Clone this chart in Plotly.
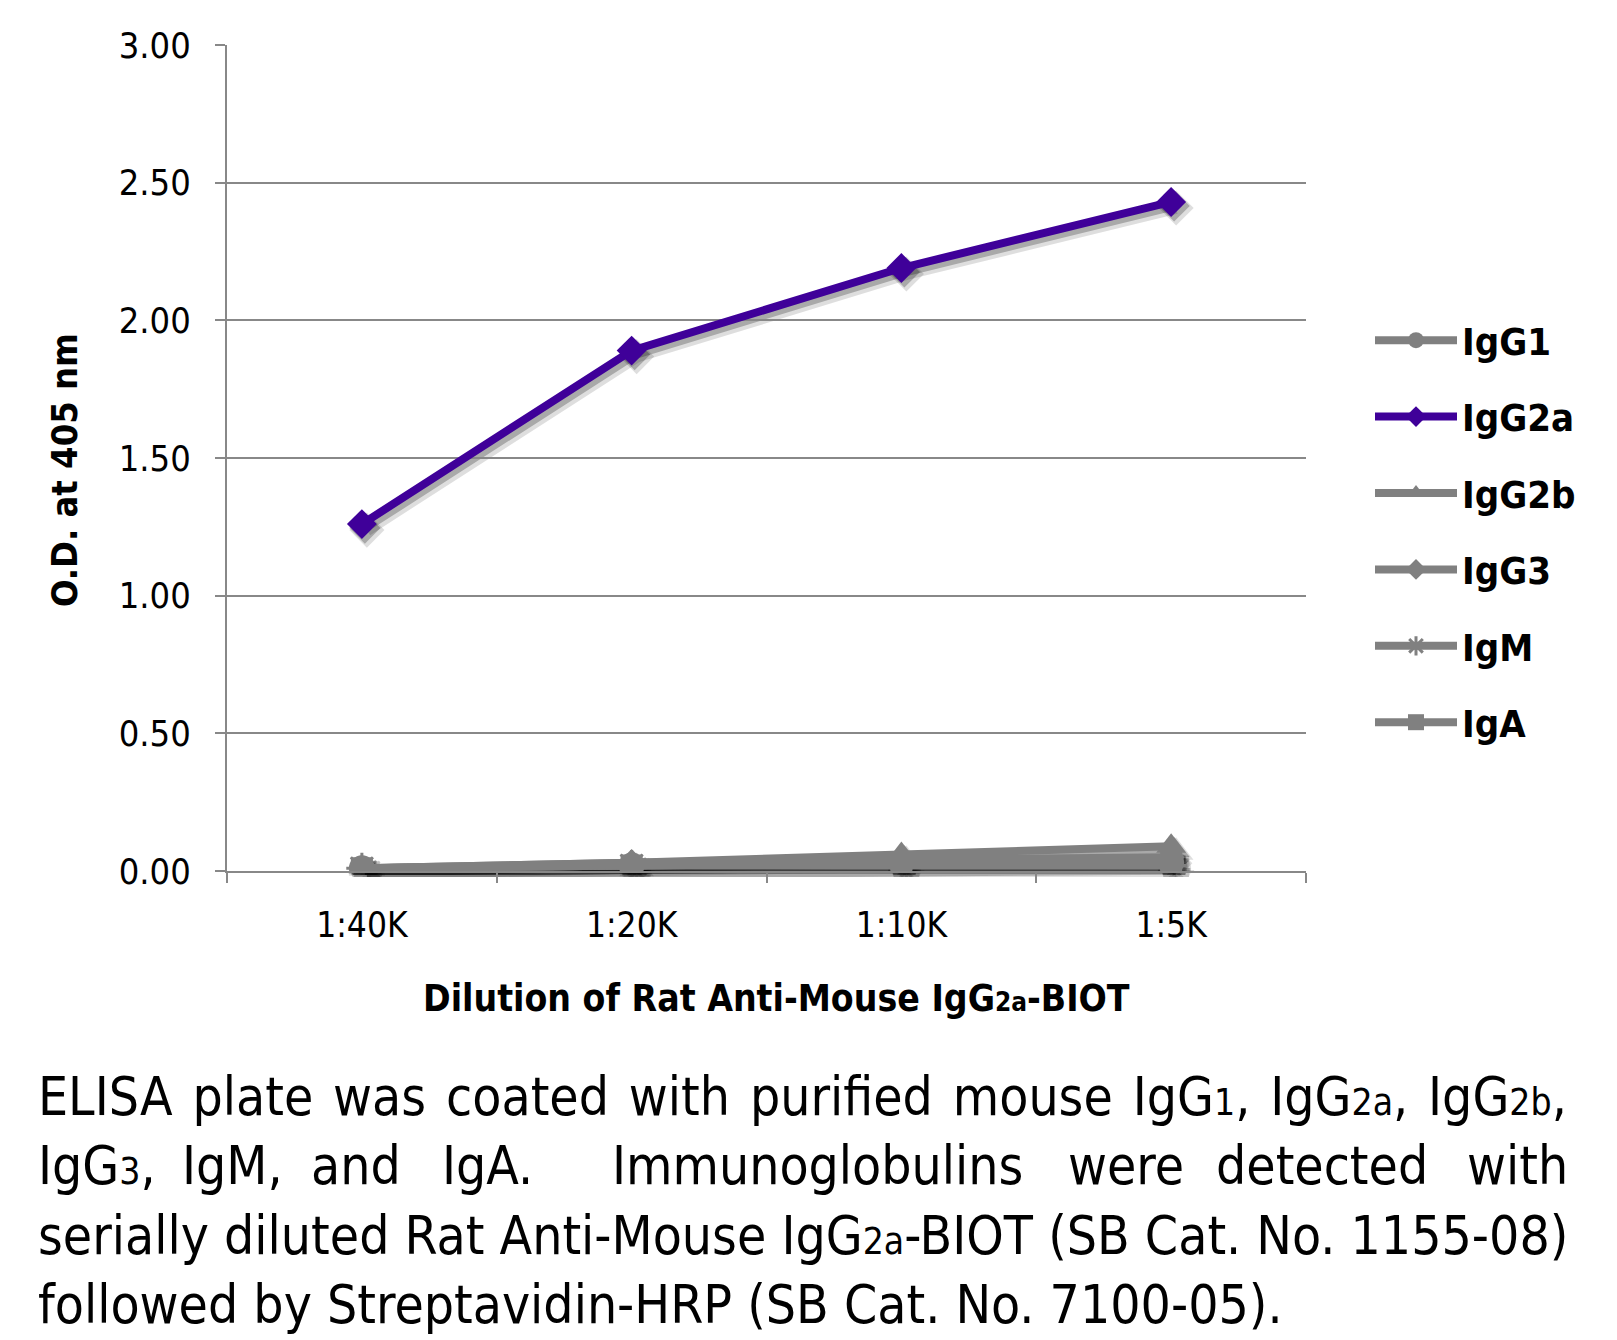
import plotly.graph_objects as go

# ---------------- data ----------------
dilutions = ["1:40K", "1:20K", "1:10K", "1:5K"]
series_names = ["IgG1", "IgG2a", "IgG2b", "IgG3", "IgM", "IgA"]
igg1 = [0.01, 0.02, 0.03, 0.03]
igg2a = [1.26, 1.89, 2.19, 2.43]
igg2b = [0.01, 0.03, 0.06, 0.09]
igg3 = [0.01, 0.03, 0.04, 0.05]
igm = [0.01, 0.02, 0.02, 0.02]
iga = [0.01, 0.02, 0.03, 0.03]
y_ticks = [0.0, 0.5, 1.0, 1.5, 2.0, 2.5, 3.0]
y_tick_text = ["0.00", "0.50", "1.00", "1.50", "2.00", "2.50", "3.00"]

series_values = [igg1, igg2a, igg2b, igg3, igm, iga]
symbols = ["circle", "diamond", "triangle-up", "diamond", "asterisk-open", "square"]
sizes = [26, 23, 26, 21, 26, 22]
GREY = "#808080"
PURPLE = "#3f0099"
colors = [GREY, PURPLE, GREY, GREY, GREY, GREY]

# ---------------- layout geometry (screen px) ----------------
W, H = 1617, 1340
OFF = 8  # page body margin offset
PL, PR, PT, PB = 227, 1306, 45, 871


def fx(px):
    return (px - OFF) / W


def fy(py):
    return 1 - (py - OFF) / H


FONT = "DejaVu Sans Condensed, DejaVu Sans, sans-serif"

fig = go.Figure()

# soft drop shadow: two layers on shifted, hidden axes
shadow_layers = [("x", "y", 12, 0.13), ("x2", "y2", 9, 0.24)]
for xa, ya, lw, alpha in shadow_layers:
    rgba = f"rgba(0,0,0,{alpha})"
    for name, vals, sym, sz in zip(series_names, series_values, symbols, sizes):
        fig.add_trace(go.Scatter(
            x=dilutions, y=vals, mode="lines+markers", name=name,
            xaxis=xa, yaxis=ya, showlegend=False, hoverinfo="skip",
            line=dict(color=rgba, width=lw),
            marker=dict(symbol=sym, size=sz + lw - 8, color=rgba,
                        line=dict(width=3 if sym == "asterisk-open" else 0, color=rgba)),
        ))

# main traces
for name, vals, sym, sz, col in zip(series_names, series_values, symbols, sizes, colors):
    fig.add_trace(go.Scatter(
        x=dilutions, y=vals, mode="lines+markers", name=name,
        xaxis="x3", yaxis="y3", legendgroup=name,
        line=dict(color=col, width=8),
        marker=dict(symbol=sym, size=sz, color=col,
                    line=dict(width=3 if sym == "asterisk-open" else 0, color=col)),
    ))

x_dom = [fx(PL), fx(PR)]
y_dom = [fy(PB), fy(PT)]


def hidden_axes(ox, oy, anchor_x, anchor_y):
    return (dict(domain=[fx(PL + ox), fx(PR + ox)], range=[-0.5, 3.5], anchor=anchor_y,
                 visible=False, type="category", categoryarray=dilutions),
            dict(domain=[fy(PB + oy), fy(PT + oy)], range=[0, 3], anchor=anchor_x, visible=False))


xa1, ya1 = hidden_axes(5, 6, "x", "y")
xa2, ya2 = hidden_axes(3, 4, "x2", "y2")

fig.update_layout(
    width=W, height=H,
    margin=dict(l=0, r=0, t=0, b=0, pad=0, autoexpand=False),
    paper_bgcolor="white", plot_bgcolor="rgba(0,0,0,0)",
    font=dict(family=FONT, color="black", size=32),
    xaxis=xa1, yaxis=ya1, xaxis2=xa2, yaxis2=ya2,
    xaxis3=dict(domain=x_dom, range=[-0.5, 3.5], type="category",
                categoryarray=dilutions, anchor="y3",
                showline=True, linecolor="#888888", linewidth=2,
                ticks="outside", tickson="boundaries", ticklen=10,
                tickcolor="#888888", tickwidth=2, showgrid=False,
                tickfont=dict(size=35, family=FONT), ticklabelstandoff=22),
    yaxis3=dict(domain=y_dom, range=[0, 3], anchor="x3",
                tickvals=y_ticks, ticktext=y_tick_text,
                showline=True, linecolor="#888888", linewidth=2,
                ticks="outside", ticklen=10, tickcolor="#888888", tickwidth=2,
                showgrid=True, gridcolor="#888888", gridwidth=2,
                zeroline=False,
                tickfont=dict(size=36, family=FONT), ticklabelstandoff=17),
    legend=dict(x=fx(1370), y=fy(309), xanchor="left", yanchor="top",
                xref="paper", yref="paper",
                font=dict(size=38, family=FONT, weight="bold"),
                tracegroupgap=24, itemwidth=82,
                bgcolor="rgba(0,0,0,0)"),
    showlegend=True,
)

S = lambda t, s: f'<span style="font-size:{s}px">{t}</span>'

annotations = []
annotations.append(dict(text="<b>O.D. at 405 nm</b>", x=fx(65), y=fy(470),
                        xref="paper", yref="paper", showarrow=False, textangle=-90,
                        xanchor="center", yanchor="middle",
                        font=dict(size=36, family=FONT)))
annotations.append(dict(text="<b>Dilution of Rat Anti-Mouse IgG" + S("2a", 26) + "-BIOT</b>",
                        x=fx(776), y=fy(998),
                        xref="paper", yref="paper", showarrow=False,
                        xanchor="center", yanchor="middle",
                        font=dict(size=37, family=FONT)))

CS = 53
SUB = 37
cap_font = dict(size=CS, family=FONT, color="black")
GAP1 = " \u200a"  # slightly widened word gap for the justified first line
GAP3 = " "
line1 = GAP1.join(["ELISA", "plate", "was", "coated", "with", "purified", "mouse",
                   "IgG" + S("1", SUB) + ",", "IgG" + S("2a", SUB) + ",", "IgG" + S("2b", SUB) + ","])
line3 = "serially diluted Rat Anti-Mouse IgG" + S("2a", SUB) + "-BIOT (SB Cat. No. 1155-08)"
line4 = "followed by Streptavidin-HRP (SB Cat. No. 7100-05)."
for txt, cy in [(line1, 1096), (line3, 1235), (line4, 1304)]:
    annotations.append(dict(text=txt, x=fx(36), y=fy(cy), xref="paper", yref="paper",
                            showarrow=False, xanchor="left", yanchor="middle", font=cap_font))
# justified second line, word by word
line2_words = ["IgG" + S("3", SUB) + ",", "IgM,", "and", "IgA.", "Immunoglobulins", "were", "detected", "with"]
line2_x = [36, 232, 356, 487, 818, 1126, 1322, 1570]
line2_anchor = ["left", "center", "center", "center", "center", "center", "center", "right"]
for wtxt, wx, anc in zip(line2_words, line2_x, line2_anchor):
    annotations.append(dict(text=wtxt, x=fx(wx), y=fy(1165), xref="paper", yref="paper",
                            showarrow=False, xanchor=anc, yanchor="middle", font=cap_font))

fig.update_layout(annotations=annotations)

fig.write_html("out.html")
